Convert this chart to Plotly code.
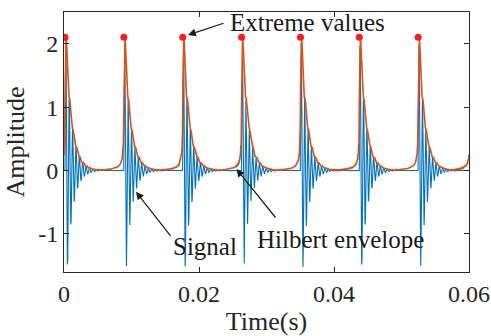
import numpy as np
import plotly.graph_objects as go

# ---- data ----
fs = 20000.0                      # sampling rate (Hz)
duration = 0.06                   # s
impulse_times = [0.00015, 0.00887, 0.01759, 0.02631, 0.03503, 0.04375, 0.05247]
impulse_amps = [2.3, 2.3, 2.3, 2.3, 2.3, 2.3, 2.3]
carrier_freq = 2000.0             # ringing frequency (Hz)
decay_tau = 0.0009                # decay time constant (s)
extreme_times = [0.00015, 0.00887, 0.01759, 0.02631, 0.03503, 0.04375, 0.05247]
extreme_vals = [2.1, 2.1, 2.1, 2.1, 2.1, 2.1, 2.1]

# ---- build signal from impulses (decaying ringing) ----
t = np.arange(0, duration + 1 / fs / 2, 1 / fs)
sig = np.zeros_like(t)
for tk, ak in zip(impulse_times, impulse_amps):
    tau = t - tk
    m = tau >= 0
    sig[m] += ak * np.exp(-tau[m] / decay_tau) * np.sin(2 * np.pi * carrier_freq * tau[m])

# Hilbert envelope via FFT
N = len(sig)
S = np.fft.fft(sig)
h = np.zeros(N)
if N % 2 == 0:
    h[0] = h[N // 2] = 1
    h[1:N // 2] = 2
else:
    h[0] = 1
    h[1:(N + 1) // 2] = 2
env = np.abs(np.fft.ifft(S * h))

# ---- pixel helpers for annotation placement ----
X0, X1, Y0, Y1 = 64, 469, 12, 272
XR = (0, 0.06)
YR = (-1.6, 2.5)
def px2x(px):
    return XR[0] + (px - X0) / (X1 - X0) * (XR[1] - XR[0])
def px2y(py):
    return YR[1] - (py - Y0) / (Y1 - Y0) * (YR[1] - YR[0])

FONT = "Liberation Serif, Times New Roman, serif"
TXT = "#262626"

fig = go.Figure()
fig.add_trace(go.Scatter(x=t, y=sig, mode="lines",
                         line=dict(color="#0072BD", width=1.1), name="Signal"))
fig.add_trace(go.Scatter(x=t, y=env, mode="lines",
                         line=dict(color="#D95319", width=1.6), name="Hilbert envelope"))
fig.add_trace(go.Scatter(x=extreme_times, y=extreme_vals, mode="markers",
                         marker=dict(color="#FF1A1A", size=7), name="Extreme values"))

ann = []
def arrow(tail, head):
    ann.append(dict(x=px2x(head[0]), y=px2y(head[1]), ax=px2x(tail[0]), ay=px2y(tail[1]),
                    xref="x", yref="y", axref="x", ayref="y", text="", showarrow=True,
                    arrowhead=2, arrowsize=1.3, arrowwidth=1.2, arrowcolor="#1a1a1a"))
def label(txt, left, cy):
    ann.append(dict(x=px2x(left), y=px2y(cy), xref="x", yref="y", text=txt,
                    showarrow=False, xanchor="left", yanchor="middle",
                    font=dict(family=FONT, size=25, color="#1a1a1a")))

arrow((225, 22.7), (188, 35))
arrow((171.7, 237.3), (136, 191.7))
arrow((276.7, 219), (236.5, 169))
label("Extreme values", 228, 22)
label("Signal", 171, 246)
label("Hilbert envelope", 255, 239)

axis_common = dict(showline=True, linecolor=TXT, linewidth=1, mirror="ticks",
                   ticks="inside", ticklen=5, tickcolor=TXT, showgrid=False, zeroline=False,
                   automargin=False,
                   tickfont=dict(family=FONT, size=24, color=TXT))
fig.update_layout(
    width=491, height=336,
    margin=dict(l=64, r=22, t=12, b=64),
    plot_bgcolor="white", paper_bgcolor="white",
    showlegend=False,
    annotations=ann,
    xaxis=dict(range=list(XR), tickvals=[0, 0.02, 0.04, 0.06], ticktext=["0", "0.02", "0.04", "0.06"],
               title=dict(text="Time(s)", font=dict(family=FONT, size=26, color=TXT), standoff=10),
               **axis_common),
    yaxis=dict(range=list(YR), tickvals=[-1, 0, 1, 2], ticktext=["-1", "0", "1", "2"],
               title=dict(text="Amplitude", font=dict(family=FONT, size=26, color=TXT), standoff=6),
               **axis_common),
)
fig.write_html("out.html")
